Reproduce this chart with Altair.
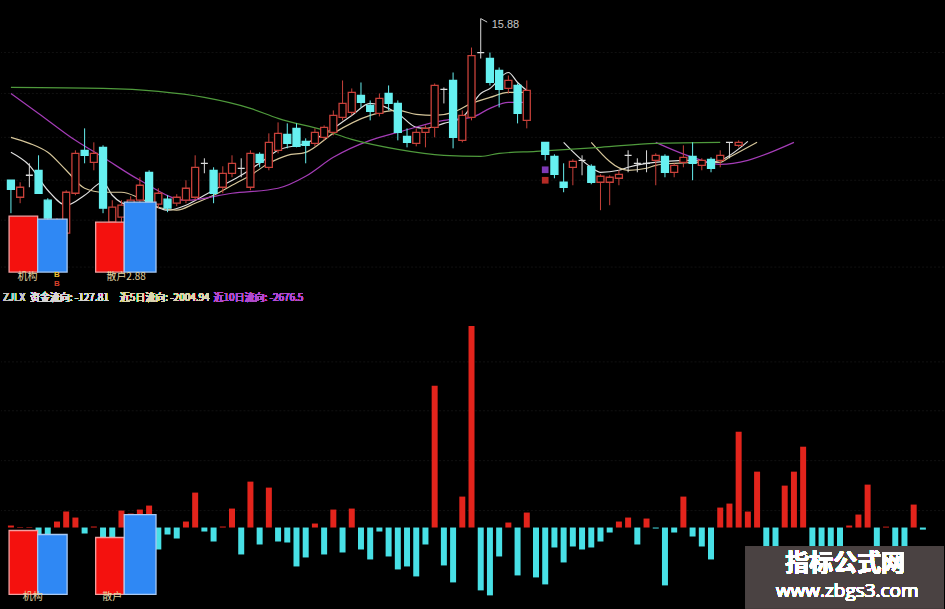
import altair as alt
import pandas as pd

# ---------------- data ----------------
# daily fund flow (资金流向), one value per session
flow = [120, 30, 30, -840, -420, 360, 960, 600, -360, 60,
        -600, -600, 1020, 840, 1080, 1320, -1320, -420, -660, 360,
        2100, -240, -840, 60, 1140, -1620, 2760, -1020, 2400, -840,
        -900, -2340, -1800, 240, -1620, 1080, -1500, 1140, -1320, -1920,
        -240, -1740, -2520, -2340, -2940, -1020, 8520, -2280, -3300, 1860,
        12120, -3780, -4080, -1740, 300, -2880, 900, -3000, -3420, -1200,
        -2100, -1140, -1320, -1200, -840, -300, 360, 600, -1020, 540,
        -60, -3480, -300, 1860, -540, -1140, -1920, 1200, 1440, 5760,
        960, 3360, -1800, -1800, 2520, 3360, 4860, -1680, -1680, -1200,
        -2080, 120, 780, 2580, -2071.56, 53, -1662, -1648.13, 1380, -127.81]

# daily candles (None = no print that session)
c_open = [9.40, 8.72, 9.60, 9.80, 8.60, 7.20, 7.28, 8.88, 10.60, 10.12,
          10.72, 7.72, 7.92, 8.12, 8.60, 9.72, 8.44, 8.64, 8.48, 8.60,
          8.72, 10.08, 9.80, 9.12, 9.68, 9.88, 9.12, 10.44, 9.92, 10.60,
          11.24, 11.48, 10.96, 10.88, 11.12, 11.32, 11.92, 12.12, 12.80, 12.40,
          12.08, 12.88, 12.48, 11.16, 10.88, 11.32, 11.52, 13.04, 13.40, 11.00,
          11.92, 14.52, 14.28, 13.80, 13.08, 13.20, 11.80, None, 10.92, 10.36,
          9.32, 9.92, 10.20, 9.96, 9.32, 9.32, 9.48, 10.40, 10.08, 10.08,
          10.20, 10.36, 9.72, 10.12, 10.36, 10.00, 10.24, 10.20, 10.92, 10.80]
c_high = [9.40, 9.32, 10.08, 10.40, 8.68, 7.88, 9.00, 10.60, 11.48, 10.92,
          10.80, 8.60, 8.60, 8.76, 9.52, 9.80, 9.08, 8.80, 8.84, 9.40,
          10.40, 10.28, 9.92, 9.96, 10.40, 10.28, 10.60, 10.52, 11.28, 11.72,
          11.68, 11.68, 11.08, 11.48, 11.60, 12.20, 13.40, 13.08, 13.32, 12.60,
          12.88, 13.20, 12.60, 11.48, 11.48, 11.60, 13.28, 13.12, 13.72, 12.20,
          14.72, 15.88, 14.52, 13.92, 13.60, 13.28, 13.40, None, 10.92, 10.44,
          10.08, 10.24, 10.40, 10.04, 9.64, 9.60, 9.80, 10.60, 10.28, 10.60,
          10.48, 10.44, 10.08, 10.80, 10.92, 10.28, 10.32, 10.60, 10.92, 11.00]
c_low = [8.08, 8.48, 9.12, 8.88, 7.60, 7.00, 7.16, 8.80, 10.08, 9.80,
         8.08, 7.56, 7.72, 8.00, 8.48, 8.20, 8.28, 8.12, 8.36, 8.48,
         8.60, 9.68, 8.48, 8.88, 9.52, 9.52, 9.00, 9.92, 9.80, 10.48,
         10.68, 10.72, 10.08, 10.76, 11.00, 11.20, 11.80, 12.00, 12.32, 11.80,
         11.96, 12.20, 11.00, 10.72, 10.76, 10.72, 11.12, 12.48, 10.68, 10.92,
         11.80, 14.28, 13.20, 12.32, 12.88, 11.68, 11.48, None, 10.20, 9.48,
         8.92, 9.20, 9.60, 9.24, 8.20, 8.40, 9.20, 9.72, 9.72, 9.72,
         9.20, 9.52, 9.52, 9.92, 9.40, 9.80, 9.72, 9.92, 10.28, 10.72]
c_close = [9.04, 9.12, 9.60, 8.88, 7.88, 7.72, 8.92, 10.48, 10.40, 10.48,
           8.28, 8.32, 8.40, 8.60, 9.20, 8.40, 8.88, 8.28, 8.72, 9.08,
           9.92, 10.08, 8.88, 9.68, 10.08, 9.88, 10.48, 10.12, 10.92, 11.28,
           10.88, 10.76, 10.80, 11.32, 11.52, 12.00, 12.48, 12.92, 12.52, 12.16,
           12.68, 12.48, 11.32, 10.92, 11.32, 11.48, 13.20, 13.04, 11.12, 12.00,
           14.40, 14.52, 13.32, 13.04, 13.40, 12.08, 13.00, None, 10.44, 9.64,
           9.12, 10.16, 10.20, 9.32, 9.56, 9.52, 9.64, 10.40, 10.08, 10.08,
           10.40, 9.72, 10.00, 10.32, 10.08, 10.20, 9.88, 10.40, 10.92, 10.92]

# moving-average polylines as (session, price) vertices; two segments around the gap
ma5_a = [(0, 10.52), (2, 10.00), (4, 9.00), (6, 8.40), (8, 8.80), (10, 9.32), (11, 8.80),
         (13, 8.40), (15, 8.40), (17, 8.20), (19, 8.40), (21, 8.80), (23, 9.20), (25, 9.60),
         (27, 10.08), (29, 10.60), (32, 10.88), (35, 11.48), (37, 12.00), (39, 12.48),
         (42, 12.08), (44, 11.52), (45, 11.48), (47, 11.68), (49, 11.92), (51, 12.88),
         (52, 13.08), (54, 13.72), (55, 13.32), (56, 13.00)]
ma5_b = [(60, 10.92), (63, 9.92), (64, 9.72), (66, 9.80), (67, 9.92), (69, 10.08),
         (71, 10.16), (74, 10.20), (76, 10.12), (77, 10.20), (80, 10.96)]
ma10_a = [(0, 11.12), (2, 10.88), (4, 10.52), (6, 9.80), (8, 9.08), (10, 8.92), (12, 8.92),
          (14, 8.68), (16, 8.32), (18, 8.20), (20, 8.48), (22, 8.80), (24, 9.20), (26, 9.60),
          (28, 10.08), (30, 10.40), (32, 10.52), (35, 11.28), (39, 12.00), (42, 12.20),
          (44, 12.04), (46, 12.00), (48, 12.12), (50, 12.48), (52, 12.72), (54, 12.92), (56, 12.92)]
ma10_b = [(63, 10.92), (67, 9.80), (69, 9.88), (70, 10.00), (72, 10.08), (75, 10.12),
          (77, 10.12), (78, 10.32), (81, 10.92)]
ma20_a = [(0, 12.88), (3, 12.08), (7, 11.00), (10, 10.32), (14, 9.40), (19, 8.60), (24, 8.88),
          (29, 9.08), (32, 9.56), (35, 10.32), (39, 11.00), (42, 11.32), (47, 11.80),
          (50, 11.92), (52, 12.28), (54, 12.52), (56, 12.52)]
ma20_b = [(70, 10.92), (74, 10.32), (77, 10.04), (80, 10.20), (83, 10.60), (85, 10.92)]
ma60 = [(0, 13.12), (10, 13.08), (16, 12.96), (21, 12.72), (26, 12.28), (29, 11.88),
        (34, 11.40), (37, 11.04), (42, 10.64), (47, 10.40), (51, 10.36), (53, 10.48),
        (57, 10.56), (64, 10.72), (70, 10.88), (77, 10.92)]

# buy signal markers
sig_day = [58, 58]
sig_price = [9.82, 9.40]
sig_kind = ["b1", "b2"]

# 机构 / 散户 comparison boxes (session span, top value) for both panes
box_group = ["机构", "机构", "散户", "散户"]
box_side = ["inst", "retail", "inst", "retail"]
box_from = [-0.2, 2.9, 9.2, 12.3]
box_to = [2.9, 6.1, 12.3, 15.75]
box_top_price = [7.96, 7.84, 7.72, 8.52]
box_base_price = 5.72
box_top_flow = [-180, -420, -600, 780]
box_base_flow = -4020

# faint horizontal guides of both panes
price_grid = [14.52, 12.88, 11.12, 9.40, 7.80, 5.92]
flow_grid = [9960, 7020, 4020, 1020]

# ---------------- frames ----------------
days = list(range(len(flow)))
X_SCALE = alt.Scale(domain=[-0.536, 100.75], nice=False, zero=False)
P_SCALE = alt.Scale(domain=[5.0, 16.6], nice=False, zero=False)
F_SCALE = alt.Scale(domain=[-4860, 14280], nice=False, zero=False)
CJK = "Noto Sans CJK SC"

candles = []
for i, (o, h, l, c) in enumerate(zip(c_open, c_high, c_low, c_close)):
    if o is None:
        continue
    kind = "up" if c > o else ("down" if c < o else "flat")
    candles.append(dict(i=i, open=o, high=h, low=l, close=c, kind=kind))
candles = pd.DataFrame(candles)

line_rows = []
for name, seg, pts in [("MA5", "a", ma5_a), ("MA5", "b", ma5_b),
                       ("MA10", "a", ma10_a), ("MA10", "b", ma10_b),
                       ("MA20", "a", ma20_a), ("MA20", "b", ma20_b),
                       ("MA60", "a", ma60)]:
    for d, p in pts:
        line_rows.append(dict(ma=name, seg=name + seg, i=d, price=p))
lines_df = pd.DataFrame(line_rows)

flow_df = pd.DataFrame({"i": days, "v": flow,
                        "dir": ["in" if v > 0 else "out" for v in flow]})

boxes = pd.DataFrame({"group": box_group, "side": box_side, "x0": box_from, "x1": box_to,
                      "ptop": box_top_price, "pbase": box_base_price,
                      "ftop": box_top_flow, "fbase": box_base_flow})

signals = pd.DataFrame({"i": sig_day, "price": sig_price, "kind": sig_kind})

kinds = ["up", "down", "flat"]
edge = alt.Scale(domain=kinds, range=["#c8413a", "#66f0f0", "#dcdcdc"])
fill = alt.Scale(domain=kinds, range=["#000000", "#66f0f0", "#dcdcdc"])
BOX_STYLE = [("inst", "#f4110e", "#f2a0a0"), ("retail", "#2f88f4", "#a9c9f2")]

X = alt.X("i:Q", scale=X_SCALE, axis=None)


def box_layers(top, base, yscale):
    out = []
    for side, f, s in BOX_STYLE:
        out.append(
            alt.Chart(boxes).transform_filter(alt.datum.side == side)
            .mark_rect(fill=f, stroke=s, strokeWidth=1.3)
            .encode(x=alt.X("x0:Q", scale=X_SCALE, axis=None), x2="x1:Q",
                    y=alt.Y(f"{top}:Q", scale=yscale, axis=None), y2=f"{base}:Q")
        )
    return out


def guides(levels, yscale):
    return alt.Chart(pd.DataFrame({"g": levels})).mark_rule(
        color="#111111", strokeWidth=1, strokeDash=[2, 2]).encode(
        y=alt.Y("g:Q", scale=yscale, axis=None))


# ---------------- price pane ----------------
ma_lines = alt.Chart(lines_df).mark_line(strokeWidth=1.2, interpolate="monotone").encode(
    x=X,
    y=alt.Y("price:Q", scale=P_SCALE, axis=None),
    color=alt.Color("ma:N", scale=alt.Scale(domain=["MA5", "MA10", "MA20", "MA60"],
                                            range=["#dedede", "#d6c69a", "#a43cb6", "#4f9a3c"]),
                    legend=None),
    detail="seg:N",
)

wicks = alt.Chart(candles).mark_rule(strokeWidth=1).encode(
    x=X, y=alt.Y("low:Q", scale=P_SCALE, axis=None), y2="high:Q",
    color=alt.Color("kind:N", scale=edge, legend=None),
)

bodies = alt.Chart(candles).mark_bar(size=7, strokeWidth=1.3).encode(
    x=X, y=alt.Y("open:Q", scale=P_SCALE, axis=None), y2="close:Q",
    fill=alt.Fill("kind:N", scale=fill, legend=None),
    stroke=alt.Stroke("kind:N", scale=edge, legend=None),
)

sig_marks = alt.Chart(signals).mark_square(size=45, opacity=0.9).encode(
    x=X, y=alt.Y("price:Q", scale=P_SCALE, axis=None),
    color=alt.Color("kind:N", scale=alt.Scale(domain=["b1", "b2"], range=["#8c3fc8", "#c8302a"]),
                    legend=None),
)

top_i = max(range(len(c_high)), key=lambda k: c_high[k] if c_high[k] is not None else -1)
top_df = pd.DataFrame({"i": [top_i], "price": [c_high[top_i]], "i2": [top_i + 0.7],
                       "price2": [c_high[top_i] - 0.14],
                       "label": [f"{c_high[top_i]:.2f}"]})
top_hook = alt.Chart(top_df).mark_rule(color="#cfcfcf", strokeWidth=1).encode(
    x=X, x2="i2:Q", y=alt.Y("price:Q", scale=P_SCALE, axis=None), y2="price2:Q")
top_label = alt.Chart(top_df).mark_text(align="left", baseline="middle", dx=11, dy=6,
                                        fontSize=11, font="Liberation Sans",
                                        color="#c8c8c8").encode(
    x=X, y=alt.Y("price:Q", scale=P_SCALE, axis=None), text="label:N")

up_labels = pd.DataFrame({"i": [1.8, 12.5], "price": [5.52, 5.52], "t": ["机构", "散户2.88"]})
up_text = alt.Chart(up_labels).mark_text(fontSize=10, font=CJK, color="#e4d6a2",
                                         baseline="middle").encode(
    x=X, y=alt.Y("price:Q", scale=P_SCALE, axis=None), text="t:N")
flag_df = pd.DataFrame({"i": [5.0, 5.0], "price": [5.62, 5.24], "t": ["B", "B"],
                        "c": ["y", "r"]})
flags = alt.Chart(flag_df).mark_text(fontSize=8, font="Liberation Sans", fontWeight="bold",
                                     baseline="middle").encode(
    x=X, y=alt.Y("price:Q", scale=P_SCALE, axis=None), text="t:N",
    color=alt.Color("c:N", scale=alt.Scale(domain=["y", "r"], range=["#f0c030", "#d8402c"]),
                    legend=None))

price_pane = alt.layer(guides(price_grid, P_SCALE), ma_lines, wicks, bodies, sig_marks,
                       top_hook, top_label, *box_layers("ptop", "pbase", P_SCALE),
                       up_text, flags).resolve_scale(
    color="independent", fill="independent", stroke="independent").properties(
    width=945, height=290)

# ---------------- fund-flow pane ----------------
bars = alt.Chart(flow_df).mark_bar(size=6).encode(
    x=X, y=alt.Y("v:Q", scale=F_SCALE, axis=None), y2=alt.datum(0),
    color=alt.Color("dir:N", scale=alt.Scale(domain=["in", "out"], range=["#e3241c", "#48e0e6"]),
                    legend=None),
)

lo_labels = pd.DataFrame({"i": [2.36, 11.0], "v": [-4200, -4200], "t": ["机构", "散户"]})
lo_text = alt.Chart(lo_labels).mark_text(fontSize=10, font=CJK, color="#e4d6a2",
                                         baseline="middle").encode(
    x=X, y=alt.Y("v:Q", scale=F_SCALE, axis=None), text="t:N")

last1 = flow[-1]
last5 = sum(flow[-5:])
last10 = sum(flow[-10:])
head_items = [
    ("ZJLX", 2, "#c4c4c4"),
    (f"资金流向: {last1:.2f}", 29, "#d6d6d6"),
    (f"近5日流向: {last5:.2f}", 119, "#ddd5b0"),
    (f"近10日流向: {last10:.1f}", 213, "#b24ccc"),
]
head = [
    alt.Chart(flow_df).mark_text(text=t, align="left", baseline="middle", fontSize=10,
                                 font=CJK, color=c).encode(x=alt.value(px), y=alt.value(8))
    for t, px, c in head_items
]

wm_box = alt.Chart(flow_df).mark_rect(color="#4a4242").encode(
    x=alt.value(746), x2=alt.value(945), y=alt.value(257), y2=alt.value(319))
wm_title = alt.Chart(flow_df).mark_text(text="指标公式网", fontSize=24, fontWeight="bold",
                                        font=CJK, color="#ffffff", baseline="middle").encode(
    x=alt.value(846), y=alt.value(275))
wm_url = alt.Chart(flow_df).mark_text(text="www.zbgs3.com", fontSize=19, font="Open Sans",
                                      color="#ffffff", baseline="middle").encode(
    x=alt.value(848), y=alt.value(302))

flow_pane = alt.layer(guides(flow_grid, F_SCALE), bars, *box_layers("ftop", "fbase", F_SCALE),
                      lo_text, *head, wm_box, wm_title, wm_url).properties(width=945, height=319)

chart = alt.vconcat(price_pane, flow_pane, spacing=0).properties(
    background="#000000", padding=0
).configure_view(stroke=None).configure_concat(spacing=0)

chart.save("out.html", embed_options={"renderer": "svg", "actions": False})
